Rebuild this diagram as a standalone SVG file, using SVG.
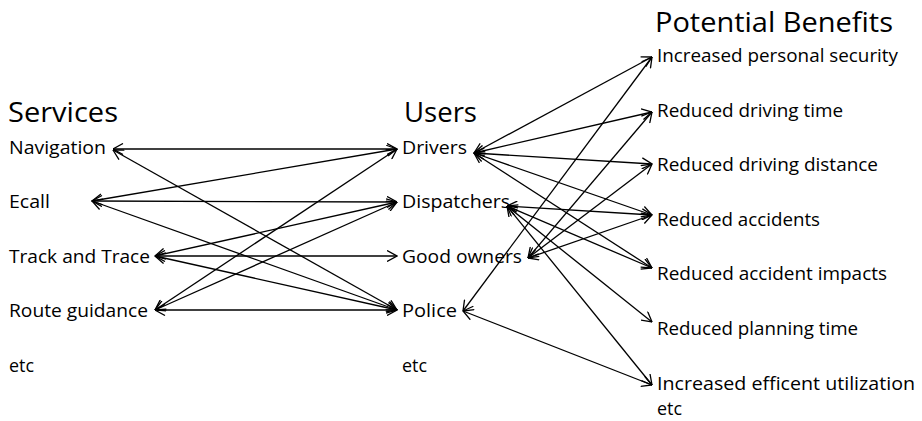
<svg xmlns="http://www.w3.org/2000/svg" width="922" height="421" viewBox="0 0 922 421">
  <style>
    text { font-family: "Open Sans", "Liberation Sans", sans-serif; fill: #000; }
    .title { font-size: 27px; }
    .label { font-size: 18px; }
    .link { stroke: #000; stroke-width: 1.3; fill: none; marker-start: url(#head); marker-end: url(#head); }
  </style>
  <defs>
    <marker id="head" viewBox="0 0 11 12" refX="10.5" refY="6" markerWidth="11" markerHeight="12" markerUnits="userSpaceOnUse" orient="auto-start-reverse">
      <path d="M0.5,0.5 L10.5,6 L0.5,11.5" fill="none" stroke="#000" stroke-width="1.3"/>
    </marker>
  </defs>
  <rect width="922" height="421" fill="#fff"/>

  <!-- column headings -->
  <g id="headings">
    <text class="title" x="8" y="122" textLength="110" lengthAdjust="spacingAndGlyphs">Services</text>
    <text class="title" x="404" y="122" textLength="73" lengthAdjust="spacingAndGlyphs">Users</text>
    <text class="title" x="655" y="32" textLength="238" lengthAdjust="spacingAndGlyphs">Potential Benefits</text>
  </g>

  <!-- services -->
  <g id="svc-navigation"><text class="label" x="9" y="154" textLength="97" lengthAdjust="spacingAndGlyphs">Navigation</text></g>
  <g id="svc-ecall"><text class="label" x="9" y="208" textLength="41" lengthAdjust="spacingAndGlyphs">Ecall</text></g>
  <g id="svc-track"><text class="label" x="9" y="263" textLength="141" lengthAdjust="spacingAndGlyphs">Track and Trace</text></g>
  <g id="svc-route"><text class="label" x="9" y="317" textLength="139" lengthAdjust="spacingAndGlyphs">Route guidance</text></g>
  <g id="svc-etc"><text class="label" x="9" y="372" textLength="25" lengthAdjust="spacingAndGlyphs">etc</text></g>

  <!-- users -->
  <g id="usr-drivers"><text class="label" x="402" y="154" textLength="65" lengthAdjust="spacingAndGlyphs">Drivers</text></g>
  <g id="usr-dispatchers"><text class="label" x="402" y="208" textLength="108" lengthAdjust="spacingAndGlyphs">Dispatchers</text></g>
  <g id="usr-goodowners"><text class="label" x="402" y="263" textLength="120" lengthAdjust="spacingAndGlyphs">Good owners</text></g>
  <g id="usr-police"><text class="label" x="402" y="317" textLength="55" lengthAdjust="spacingAndGlyphs">Police</text></g>
  <g id="usr-etc"><text class="label" x="402" y="372" textLength="25" lengthAdjust="spacingAndGlyphs">etc</text></g>

  <!-- benefits -->
  <g id="ben-security"><text class="label" x="657" y="62" textLength="241" lengthAdjust="spacingAndGlyphs">Increased personal security</text></g>
  <g id="ben-drivetime"><text class="label" x="657" y="117" textLength="186" lengthAdjust="spacingAndGlyphs">Reduced driving time</text></g>
  <g id="ben-distance"><text class="label" x="657" y="171" textLength="221" lengthAdjust="spacingAndGlyphs">Reduced driving distance</text></g>
  <g id="ben-accidents"><text class="label" x="657" y="226" textLength="163" lengthAdjust="spacingAndGlyphs">Reduced accidents</text></g>
  <g id="ben-impacts"><text class="label" x="657" y="280" textLength="230" lengthAdjust="spacingAndGlyphs">Reduced accident impacts</text></g>
  <g id="ben-planning"><text class="label" x="657" y="335" textLength="201" lengthAdjust="spacingAndGlyphs">Reduced planning time</text></g>
  <g id="ben-utilization"><text class="label" x="657" y="390" textLength="258" lengthAdjust="spacingAndGlyphs">Increased efficent utilization</text></g>
  <g id="ben-etc"><text class="label" x="657" y="415" textLength="25" lengthAdjust="spacingAndGlyphs">etc</text></g>

  <!-- connectors -->
  <g id="connectors">
    <!-- services to users -->
    <line class="link" x1="113" y1="149" x2="397" y2="149"/>
    <line class="link" x1="113" y1="150" x2="397" y2="310"/>
    <line class="link" x1="92" y1="201" x2="397" y2="149"/>
    <line class="link" x1="92" y1="201" x2="397" y2="202"/>
    <line class="link" x1="92" y1="201" x2="397" y2="310"/>
    <line class="link" x1="155" y1="256" x2="397" y2="202"/>
    <line class="link" x1="155" y1="256" x2="397" y2="256"/>
    <line class="link" x1="155" y1="256" x2="397" y2="310"/>
    <line class="link" x1="155" y1="310" x2="397" y2="149"/>
    <line class="link" x1="155" y1="310" x2="397" y2="202"/>
    <line class="link" x1="155" y1="310" x2="397" y2="310"/>
    <!-- users to benefits -->
    <line class="link" x1="474" y1="153" x2="652" y2="57"/>
    <line class="link" x1="474" y1="153" x2="652" y2="112"/>
    <line class="link" x1="474" y1="153" x2="652" y2="164"/>
    <line class="link" x1="474" y1="153" x2="652" y2="215"/>
    <line class="link" x1="474" y1="153" x2="652" y2="268"/>
    <line class="link" x1="507" y1="206" x2="652" y2="215"/>
    <line class="link" x1="507" y1="206" x2="652" y2="268"/>
    <line class="link" x1="507" y1="206" x2="652" y2="322"/>
    <line class="link" x1="507" y1="206" x2="652" y2="385"/>
    <line class="link" x1="528" y1="258" x2="652" y2="112"/>
    <line class="link" x1="528" y1="258" x2="652" y2="164"/>
    <line class="link" x1="528" y1="258" x2="652" y2="215"/>
    <line class="link" x1="463" y1="311" x2="652" y2="57"/>
    <line class="link" x1="463" y1="311" x2="652" y2="385"/>
  </g>
</svg>
